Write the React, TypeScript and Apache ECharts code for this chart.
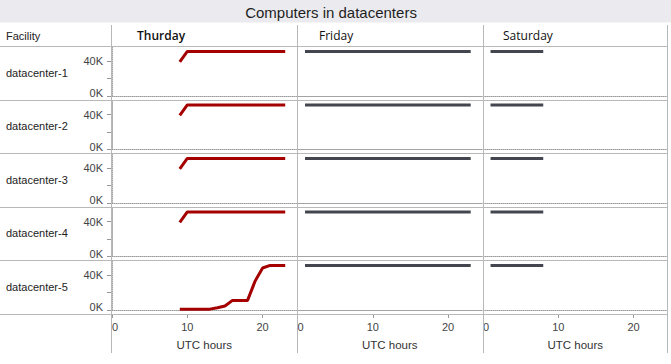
import React, { useEffect, useRef } from "react";
import * as echarts from "echarts";

const chartTitle = "Computers in datacenters";
const facilityHeader = "Facility";
const facilities = ["datacenter-1", "datacenter-2", "datacenter-3", "datacenter-4", "datacenter-5"];
const days = ["Thurday", "Friday", "Saturday"];
const axisTitle = "UTC hours";
const xTicks = [0, 10, 20];
const yTicks = [0, 20000, 40000];
const yLabels = [0, 40000];

const hoursThu = [9, 10, 11, 12, 13, 14, 15, 16, 17, 18, 19, 20, 21, 22, 23];
const hoursFri = [1, 2, 3, 4, 5, 6, 7, 8, 9, 10, 11, 12, 13, 14, 15, 16, 17, 18, 19, 20, 21, 22, 23];
const hoursSat = [1, 2, 3, 4, 5, 6, 7, 8];

const dc1Thu = [39000, 51000, 51000, 51000, 51000, 51000, 51000, 51000, 51000, 51000, 51000, 51000, 51000, 51000, 51000];
const dc2Thu = [39000, 51000, 51000, 51000, 51000, 51000, 51000, 51000, 51000, 51000, 51000, 51000, 51000, 51000, 51000];
const dc3Thu = [39000, 51000, 51000, 51000, 51000, 51000, 51000, 51000, 51000, 51000, 51000, 51000, 51000, 51000, 51000];
const dc4Thu = [39000, 51000, 51000, 51000, 51000, 51000, 51000, 51000, 51000, 51000, 51000, 51000, 51000, 51000, 51000];
const dc5Thu = [1000, 1000, 1000, 1000, 1000, 2500, 4500, 11000, 11000, 11000, 33000, 48000, 51000, 51000, 51000];

const dc1Fri = [51000, 51000, 51000, 51000, 51000, 51000, 51000, 51000, 51000, 51000, 51000, 51000, 51000, 51000, 51000, 51000, 51000, 51000, 51000, 51000, 51000, 51000, 51000];
const dc2Fri = [51000, 51000, 51000, 51000, 51000, 51000, 51000, 51000, 51000, 51000, 51000, 51000, 51000, 51000, 51000, 51000, 51000, 51000, 51000, 51000, 51000, 51000, 51000];
const dc3Fri = [51000, 51000, 51000, 51000, 51000, 51000, 51000, 51000, 51000, 51000, 51000, 51000, 51000, 51000, 51000, 51000, 51000, 51000, 51000, 51000, 51000, 51000, 51000];
const dc4Fri = [51000, 51000, 51000, 51000, 51000, 51000, 51000, 51000, 51000, 51000, 51000, 51000, 51000, 51000, 51000, 51000, 51000, 51000, 51000, 51000, 51000, 51000, 51000];
const dc5Fri = [51000, 51000, 51000, 51000, 51000, 51000, 51000, 51000, 51000, 51000, 51000, 51000, 51000, 51000, 51000, 51000, 51000, 51000, 51000, 51000, 51000, 51000, 51000];

const dc1Sat = [51000, 51000, 51000, 51000, 51000, 51000, 51000, 51000];
const dc2Sat = [51000, 51000, 51000, 51000, 51000, 51000, 51000, 51000];
const dc3Sat = [51000, 51000, 51000, 51000, 51000, 51000, 51000, 51000];
const dc4Sat = [51000, 51000, 51000, 51000, 51000, 51000, 51000, 51000];
const dc5Sat = [51000, 51000, 51000, 51000, 51000, 51000, 51000, 51000];

const dayHours = [hoursThu, hoursFri, hoursSat];
const table = [
  [dc1Thu, dc1Fri, dc1Sat],
  [dc2Thu, dc2Fri, dc2Sat],
  [dc3Thu, dc3Fri, dc3Sat],
  [dc4Thu, dc4Fri, dc4Sat],
  [dc5Thu, dc5Fri, dc5Sat],
];

// layout (pixels)
const colLeft = [112, 297.5, 483];
const colWidth = 184.5;
const rowTop0 = 46;
const rowH = 53.5;
const dayColors = ["#a50000", "#43464e"];
const divider = "#b8b8b8";
const font = "Liberation Sans, Arial, sans-serif";

function buildOption() {
  const grids: any[] = [];
  const xAxes: any[] = [];
  const yAxes: any[] = [];
  const series: any[] = [];
  facilities.forEach((_, r) => {
    days.forEach((_, c) => {
      const idx = r * 3 + c;
      grids.push({
        left: colLeft[c],
        width: colWidth,
        top: rowTop0 + rowH * r + 1,
        height: 49,
        containLabel: false,
      });
      xAxes.push({
        type: "value",
        gridIndex: idx,
        min: 0,
        max: 24.5,
        axisLine: { show: true, onZero: false, lineStyle: { color: "#9a9a9a", type: "dotted", width: 1 } },
        axisTick: { show: false },
        axisLabel: { show: false },
        splitLine: { show: false },
      });
      yAxes.push({
        type: "value",
        gridIndex: idx,
        min: 0,
        max: 56000,
        axisLine: { show: true, onZero: false, lineStyle: { color: "#a8a8a8", type: "dotted", width: 1 } },
        axisTick: {
          show: c === 0,
          length: 5,
          customValues: yTicks,
          lineStyle: { color: "#999" },
        },
        axisLabel: {
          show: c === 0,
          customValues: yLabels,
          formatter: (v: number) => v / 1000 + "K",
          fontSize: 11,
          fontFamily: font,
          color: "#444",
          margin: 9,
          lineHeight: 6,
          verticalAlignMinLabel: "bottom",
        },
        splitLine: { show: false },
      });
      series.push({
        type: "line",
        xAxisIndex: idx,
        yAxisIndex: idx,
        data: dayHours[c].map((h, i) => [h, table[r][c][i]]),
        showSymbol: false,
        symbol: "none",
        lineStyle: { color: c === 0 ? dayColors[0] : dayColors[1], width: 3 },
        silent: true,
      });
    });
  });
  // bottom axes with labels
  days.forEach((_, c) => {
    xAxes.push({
      type: "value",
      gridIndex: 12 + c,
      position: "bottom",
      offset: 4,
      min: 0,
      max: 24.5,
      axisLine: { show: false, onZero: false },
      axisTick: { show: true, length: 4, customValues: xTicks, lineStyle: { color: "#999" } },
      axisLabel: {
        show: true,
        customValues: xTicks,
        fontSize: 11,
        fontFamily: font,
        color: "#444",
        margin: 7,
        alignMinLabel: "left",
      },
      splitLine: { show: false },
      name: axisTitle,
      nameLocation: "middle",
      nameGap: 25,
      nameTextStyle: { fontSize: 11.5, fontFamily: font, color: "#333" },
    });
  });

  const graphics: any[] = [];
  graphics.push({
    type: "rect",
    shape: { x: 0, y: 0, width: 671, height: 22.5 },
    style: { fill: "#ebebef" },
    z: 0,
  });
  graphics.push({
    type: "text",
    x: 331,
    y: 12,
    style: { text: chartTitle, font: `15px ${font}`, fill: "#1e1e1e", textAlign: "center", textVerticalAlign: "middle" },
  });
  graphics.push({
    type: "text",
    x: 6,
    y: 36,
    style: { text: facilityHeader, font: `11px ${font}`, fill: "#222", textAlign: "left", textVerticalAlign: "middle" },
  });
  const dayX = [137, 319, 503];
  days.forEach((d, c) => {
    graphics.push({
      type: "text",
      x: dayX[c],
      y: 35,
      style: {
        text: d,
        font: `${c === 0 ? "600" : "500"} 12px "Open Sans", sans-serif`,
        fill: "#111",
        textAlign: "left",
        textVerticalAlign: "middle",
      },
    });
  });
  facilities.forEach((f, r) => {
    graphics.push({
      type: "text",
      x: 6,
      y: rowTop0 + rowH * r + rowH / 2,
      style: { text: f, font: `11px ${font}`, fill: "#222", textAlign: "left", textVerticalAlign: "middle" },
    });
  });
  for (let r = 0; r <= facilities.length; r++) {
    const y = Math.round(rowTop0 + rowH * r) + 0.5;
    graphics.push({
      type: "line",
      shape: { x1: 0, y1: y, x2: 667, y2: y },
      style: { stroke: divider, lineWidth: 1 },
      z: 1,
    });
  }
  [111.5, 297.5, 483.5, 667.5].forEach((x) => {
    graphics.push({
      type: "line",
      shape: { x1: x, y1: 25, x2: x, y2: 353 },
      style: { stroke: divider, lineWidth: 1 },
      z: 1,
    });
  });

  return {
    animation: false,
    backgroundColor: "#ffffff",
    grid: grids,
    xAxis: xAxes,
    yAxis: yAxes,
    series,
    graphic: { elements: graphics },
  };
}

export default function App() {
  const ref = useRef<HTMLDivElement>(null);
  useEffect(() => {
    document.body.style.margin = "0";
    const chart = echarts.init(ref.current!, null, { renderer: "svg" });
    chart.setOption(buildOption() as any);
    return () => chart.dispose();
  }, []);
  return <div ref={ref} style={{ width: 671, height: 364 }} />;
}
